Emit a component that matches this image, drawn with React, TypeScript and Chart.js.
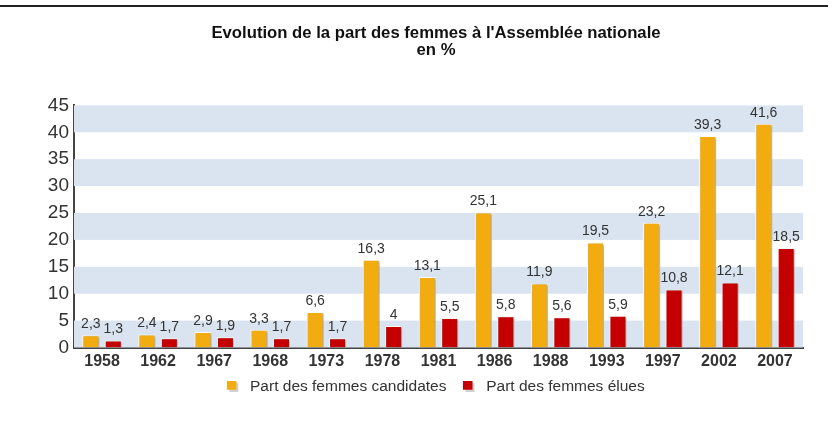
import React, { useEffect, useRef } from "react";
import { Chart, registerables } from "chart.js";

Chart.register(...registerables);

const years = ["1958", "1962", "1967", "1968", "1973", "1978", "1981", "1986", "1988", "1993", "1997", "2002", "2007"];
const candidates = [2.3, 2.4, 2.9, 3.3, 6.6, 16.3, 13.1, 25.1, 11.9, 19.5, 23.2, 39.3, 41.6];
const elected = [1.3, 1.7, 1.9, 1.7, 1.7, 4, 5.5, 5.8, 5.6, 5.9, 10.8, 12.1, 18.5];
const yTicks = [0, 5, 10, 15, 20, 25, 30, 35, 40, 45];
const titleLines = ["Evolution de la part des femmes à l'Assemblée nationale", "en %"];
const seriesNames = ["Part des femmes candidates", "Part des femmes élues"];
const seriesColors = ["#f2ac0f", "#c40000"];

const FONT = "'Liberation Sans', Arial, sans-serif";

function legendSwatch(color: string) {
  const c = document.createElement("canvas");
  c.width = 15;
  c.height = 11;
  const g = c.getContext("2d") as CanvasRenderingContext2D;
  g.fillStyle = "rgba(0,0,0,0.18)";
  g.fillRect(2, 2, 9, 9);
  g.fillStyle = color;
  g.fillRect(0, 0, 9, 9);
  return c;
}

const bandsPlugin = {
  id: "bands",
  beforeDatasetsDraw(chart: any) {
    const { ctx, chartArea } = chart;
    const y = chart.scales.y;
    ctx.save();
    ctx.fillStyle = "#d9e4f0";
    for (let i = 0; i < yTicks.length - 1; i++) {
      if (i % 2 === 0) {
        const top = y.getPixelForValue(yTicks[i + 1]);
        const bottom = y.getPixelForValue(yTicks[i]);
        ctx.fillRect(chartArea.left, top, chartArea.right - chartArea.left, bottom - top);
      }
    }
    ctx.restore();
  },
};

// let the tick labels use the space left of / below their (narrowed) axis boxes
const widenAxisPlugin = {
  id: "widenAxis",
  afterLayout(chart: any) {
    chart.scales.y.left = 0;
    chart.scales.x.bottom = chart.height;
  },
};

const shadowPlugin = {
  id: "barShadow",
  beforeDatasetDraw(chart: any) {
    const ctx = chart.ctx;
    ctx.save();
    ctx.shadowColor = "rgba(0,0,0,0.3)";
    ctx.shadowOffsetX = 2;
    ctx.shadowOffsetY = 1;
    ctx.shadowBlur = 2;
  },
  afterDatasetDraw(chart: any) {
    chart.ctx.restore();
  },
};

const labelsPlugin = {
  id: "valueLabels",
  afterDatasetsDraw(chart: any) {
    const { ctx } = chart;
    ctx.save();
    ctx.font = `14px ${FONT}`;
    ctx.fillStyle = "#333";
    ctx.textAlign = "center";
    ctx.textBaseline = "bottom";
    chart.data.datasets.forEach((ds: any, di: number) => {
      const meta = chart.getDatasetMeta(di);
      meta.data.forEach((bar: any, i: number) => {
        const v = ds.data[i];
        const txt = String(v).replace(".", ",");
        ctx.fillText(txt, bar.x, bar.y - 4);
      });
    });
    ctx.restore();
  },
};

export default function App() {
  const ref = useRef<HTMLCanvasElement>(null);
  useEffect(() => {
    if (!ref.current) return;
    const swatches = seriesColors.map(legendSwatch);
    const chart = new Chart(ref.current, {
      type: "bar",
      data: {
        labels: years,
        datasets: [
          {
            label: seriesNames[0],
            data: candidates,
            backgroundColor: seriesColors[0],
            borderColor: "#ffffff",
            borderWidth: 1,
            categoryPercentage: 0.8,
            barPercentage: 0.76,
          },
          {
            label: seriesNames[1],
            data: elected,
            backgroundColor: seriesColors[1],
            borderColor: "#ffffff",
            borderWidth: 1,
            categoryPercentage: 0.8,
            barPercentage: 0.76,
          },
        ],
      },
      options: {
        animation: false,
        responsive: false,
        maintainAspectRatio: false,
        layout: { padding: { left: 69, right: 34, top: 0, bottom: 17 } },
        scales: {
          x: {
            afterFit(scale: any) {
              scale.height = 14;
            },
            grid: { display: false, drawTicks: false },
            border: { display: true, color: "#444", width: 2 },
            ticks: { color: "#333", font: { family: FONT, size: 16, weight: "bold" }, padding: 4 },
          },
          y: {
            min: 0,
            max: 45,
            afterFit(scale: any) {
              scale.width = 5;
            },
            afterBuildTicks(scale: any) {
              scale.ticks = yTicks.map((v) => ({ value: v }));
            },
            grid: { display: false, drawTicks: true, tickLength: 3, tickColor: "#444" },
            border: { display: true, color: "#444", width: 2 },
            ticks: { color: "#333", font: { family: FONT, size: 19 }, padding: 2 },
          },
        },
        plugins: {
          title: {
            display: true,
            text: titleLines,
            color: "#111",
            font: { family: FONT, size: 16.7, weight: "bold", lineHeight: 1.0 },
            padding: { top: 25, bottom: 47 },
          },
          legend: {
            display: true,
            position: "bottom",
            labels: {
              color: "#333",
              font: { family: FONT, size: 15.5 },
              usePointStyle: true,
              pointStyleWidth: 15,
              boxWidth: 9,
              boxHeight: 9,
              padding: 17,
              generateLabels(chart: any) {
                const items = Chart.defaults.plugins.legend.labels.generateLabels(chart);
                return items.map((it: any, i: number) => ({ ...it, pointStyle: swatches[i] }));
              },
            },
          },
          tooltip: { enabled: false },
        },
      },
      plugins: [widenAxisPlugin, bandsPlugin, shadowPlugin, labelsPlugin],
    });
    return () => chart.destroy();
  }, []);
  return (
    <div style={{ position: "absolute", left: 0, top: 0, width: 837, height: 421, background: "#fff", overflow: "hidden" }}>
      <div style={{ position: "absolute", left: 0, top: 5, width: 828, height: 0, borderTop: "2px solid #222" }} />
      <canvas ref={ref} width={837} height={421} style={{ position: "absolute", left: 0, top: 0 }} />
    </div>
  );
}
